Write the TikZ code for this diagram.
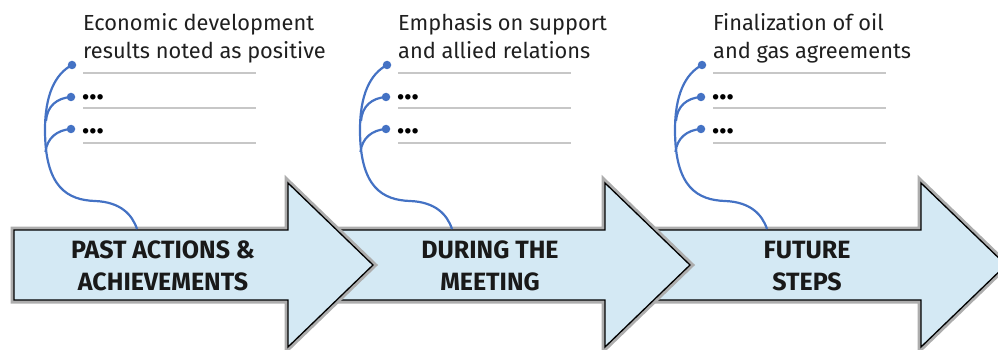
\documentclass[tikz,border=0pt]{standalone}
\usepackage{fontspec}
\setmainfont{Fira Sans}
\begin{document}
\begin{tikzpicture}[x=1pt,y=-1pt,
  arrowgray/.style={draw=black!32,line width=7pt,line join=miter},
  arrowbody/.style={fill=arrowfill,draw=black,line width=1.3pt,line join=miter},
  arrowlabel/.style={font=\fontsize{25}{32}\selectfont\bfseries,text=black!90,align=center,inner sep=0pt},
  toptext/.style={font=\fontsize{21.8}{28}\selectfont,text=black!88,align=left,anchor=base west,inner sep=0pt},
  dotstext/.style={font=\fontsize{30}{30}\selectfont\bfseries,text=black,anchor=base west,inner sep=0pt},
  rule/.style={draw=black!22,line width=2pt},
  bdot/.style={circle,fill=linkblue,inner sep=0pt,minimum size=8.5pt},
  link/.style={draw=linkblue,line width=2.2pt},
]
\definecolor{arrowfill}{RGB}{212,233,244}
\definecolor{linkblue}{RGB}{68,114,196}
\useasboundingbox (0,0) rectangle (998,350);
\clip (0,0) rectangle (998,350);

% arrows (right to left so that each head lies over the next notch)
\draw[arrowgray] (654,230) -- (921,230) -- (921,183) -- (1006,265) -- (921,347) -- (921,300) -- (654,300) -- (690,265) -- cycle;
\draw[arrowbody] (654,230) -- (921,230) -- (921,183) -- (1006,265) -- (921,347) -- (921,300) -- (654,300) -- (690,265) -- cycle;
\draw[arrowgray] (337,230) -- (605,230) -- (605,183) -- (690,265) -- (605,347) -- (605,300) -- (337,300) -- (373,265) -- cycle;
\draw[arrowbody] (337,230) -- (605,230) -- (605,183) -- (690,265) -- (605,347) -- (605,300) -- (337,300) -- (373,265) -- cycle;
\draw[arrowgray] (14,230) -- (288,230) -- (288,183) -- (373,265) -- (288,347) -- (288,300) -- (14,300) -- cycle;
\draw[arrowbody] (14,230) -- (288,230) -- (288,183) -- (373,265) -- (288,347) -- (288,300) -- (14,300) -- cycle;

\node[arrowlabel] (a1) at (163,266) {PAST ACTIONS \&\\ACHIEVEMENTS};
\node[arrowlabel] (a2) at (490,266) {DURING THE\\MEETING};
\node[arrowlabel] (a3) at (807,266) {FUTURE\\STEPS};

% note groups
\foreach \i/\dx/\txt in {1/0/{Economic development\\results noted as positive},
                         2/315/{Emphasis on support\\and allied relations},
                         3/630/{Finalization of oil\\and gas agreements}}{
  \begin{scope}[xshift=\dx]
    \node[toptext] (t\i) at (83,59) {\txt};
    \draw[rule] (83,73) -- (256,73);
    \draw[rule] (83,108) -- (256,108);
    \draw[rule] (83,143) -- (256,143);
    \node[dotstext] (e\i a) at (82,100) {...};
    \node[dotstext] (e\i b) at (82,134) {...};
    \node[bdot] (d\i a) at (72,65) {};
    \node[bdot] (d\i b) at (71,97) {};
    \node[bdot] (d\i c) at (71,129) {};
    \coordinate (j\i) at (137,229);
    \coordinate (m\i b) at (46,121);
    \coordinate (m\i c) at (45.5,152);
    \draw[link] (d\i a.center) .. controls (55,74) and (45,95) .. (45,130)
                .. controls (45,188) and (68,200) .. (95,201)
                .. controls (120,202) and (132,214) .. (j\i);
    \draw[link] (d\i b.center) .. controls (57,98) and (47,106) .. (m\i b);
    \draw[link] (d\i c.center) .. controls (57,130) and (47,138) .. (m\i c);
  \end{scope}
}
\end{tikzpicture}
\end{document}
